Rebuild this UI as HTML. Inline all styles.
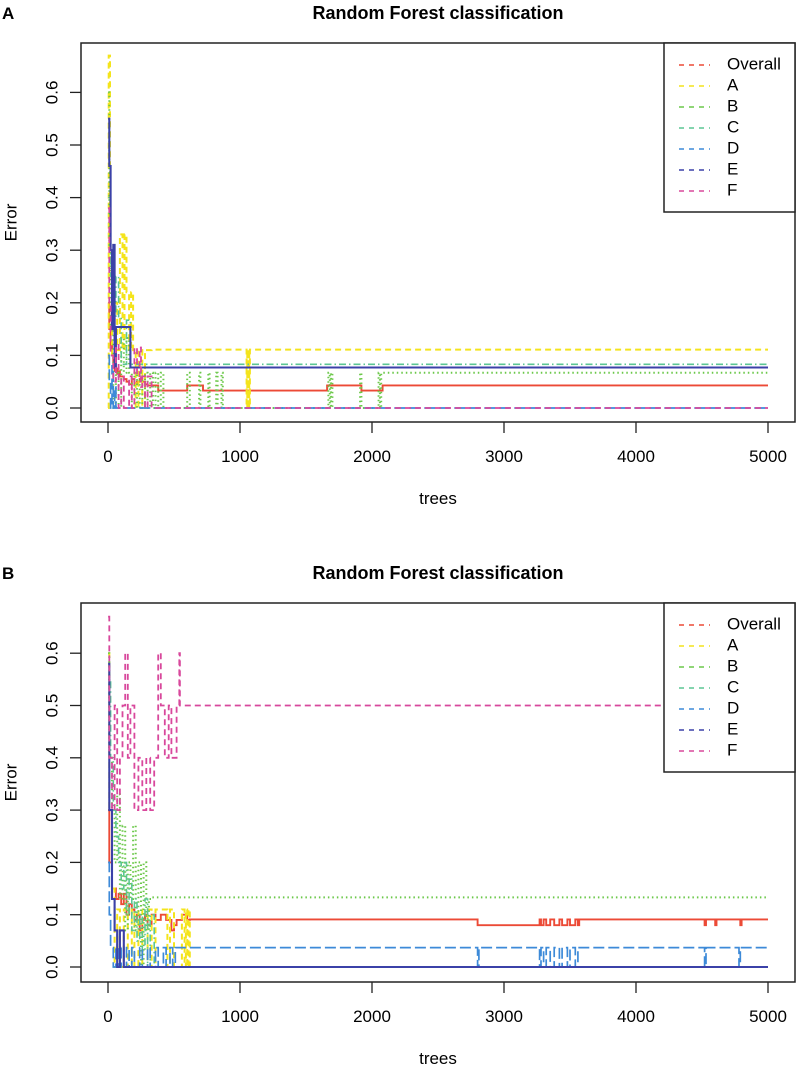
<!DOCTYPE html>
<html><head><meta charset="utf-8">
<style>
html,body{margin:0;padding:0;background:#fff;}
svg{display:block;font-family:"Liberation Sans",sans-serif;}
</style></head>
<body>
<svg id="fig" width="800" height="1069" viewBox="0 0 800 1069"></svg>
<script>
// ---------- Panel A data ----------
const xTicks = [0, 1000, 2000, 3000, 4000, 5000];
const yTicks = [0.0, 0.1, 0.2, 0.3, 0.4, 0.5, 0.6];
const yTickLabels = ["0.0", "0.1", "0.2", "0.3", "0.4", "0.5", "0.6"];
const legendLabels = ["Overall", "A", "B", "C", "D", "E", "F"];

const aOverallX = [1,10,20,30,40,50,60,70,80,90,100,120,140,160,180,200,220,240,260,280,300,380,600,720,1660,1920,2080,5000];
const aOverallY = [0.2,0.15,0.12,0.1,0.08,0.07,0.075,0.065,0.07,0.06,0.06,0.055,0.05,0.045,0.055,0.045,0.05,0.055,0.05,0.045,0.043,0.033,0.043,0.033,0.043,0.033,0.043,0.043];
const aAX = [1,5,15,30,50,70,90,110,125,140,160,175,190,210,230,260,280,330,1050,1055,1060,1065,1070,1075,1080,5000];
const aAY = [0,0.67,0.3,0.1,0.2,0.11,0.33,0.11,0.33,0.22,0.11,0.22,0.11,0,0.11,0,0.11,0.111,0,0.111,0,0.111,0,0.111,0.111,0.111];
const aBX = [1,10,20,40,60,80,100,120,140,160,180,200,220,240,260,280,300,320,340,360,380,400,420,600,620,690,700,760,770,820,830,860,870,1670,1680,1690,1700,1910,1920,2050,2060,2070,5000];
const aBY = [0.6,0.3,0.15,0,0.067,0,0.133,0.067,0.133,0.067,0,0.067,0,0.067,0,0.067,0,0.067,0,0.067,0,0.067,0,0.067,0,0.067,0,0.067,0,0.067,0,0.067,0,0.067,0,0.067,0,0.067,0,0.067,0,0.067,0.067];
const aCX = [1,20,40,60,80,100,140,170,5000];
const aCY = [0.4,0.25,0.17,0.25,0.17,0.083,0.167,0.083,0.083];
const aDX = [1,10,20,30,40,50,60,5000];
const aDY = [0.1,0.05,0,0.08,0,0.04,0,0];
const aEX = [1,10,20,30,40,50,60,170,5000];
const aEY = [0.55,0.46,0.3,0.15,0.31,0.077,0.154,0.077,0.077];
const aFX = [1,10,20,40,60,80,100,120,160,180,200,220,240,250,260,280,300,330,5000];
const aFY = [0.38,0.2,0.1,0.05,0.12,0,0.06,0,0.06,0,0.115,0.06,0.115,0.04,0.06,0,0.06,0,0];

// ---------- Panel B data ----------
const bOverallX = [1,10,30,60,80,100,120,140,160,180,200,220,240,260,280,300,330,360,400,440,480,500,520,560,600,620,2800,3270,3280,3300,3320,3350,3380,3420,3440,3480,3500,3540,3560,3570,4520,4530,4600,4610,4790,4800,5000];
const bOverallY = [0.3,0.2,0.15,0.13,0.14,0.12,0.14,0.1,0.12,0.11,0.09,0.1,0.07,0.09,0.1,0.08,0.1,0.09,0.1,0.09,0.07,0.08,0.09,0.1,0.09,0.091,0.08,0.091,0.08,0.091,0.08,0.091,0.08,0.091,0.08,0.091,0.08,0.091,0.08,0.091,0.08,0.091,0.08,0.091,0.08,0.091,0.091];
const bAX = [1,10,30,50,70,90,120,150,180,200,230,260,300,330,360,450,470,500,560,580,590,600,610,620,5000];
const bAY = [0.6,0.3,0.15,0,0.11,0,0.11,0,0.11,0,0.11,0,0.11,0,0.11,0,0.11,0,0.11,0,0.11,0,0.11,0,0];
const bBX = [1,10,30,50,70,90,110,130,150,170,190,210,230,250,270,290,310,330,5000];
const bBY = [0.6,0.4,0.3,0.2,0.33,0.13,0.27,0.07,0.2,0.13,0.27,0.07,0.2,0,0.2,0.07,0.13,0.133,0.133];
const bCX = [1,20,40,60,80,100,120,140,160,180,200,220,240,260,280,300,320,350,5000];
const bCY = [0.55,0.4,0.3,0.25,0.2,0.15,0.2,0.1,0.17,0.07,0.13,0.05,0.1,0.03,0.13,0,0.1,0,0];
const bDX = [1,10,20,40,60,80,100,120,140,160,180,200,240,260,300,320,360,380,420,440,470,490,510,2800,2810,3270,3280,3300,3320,3350,3380,3420,3440,3480,3500,3540,3560,4520,4530,4780,4790,5000];
const bDY = [0.2,0.1,0.037,0,0.037,0,0.037,0,0.037,0,0.037,0,0.037,0,0.037,0,0.037,0,0.037,0,0.037,0,0.037,0,0.037,0,0.037,0,0.037,0,0.037,0,0.037,0,0.037,0,0.037,0,0.037,0,0.037,0.037];
const bEX = [1,10,30,50,70,90,120,5000];
const bEY = [0.58,0.3,0.13,0.07,0,0.07,0,0];
const bFX = [1,10,30,50,70,90,110,130,150,170,200,230,260,290,320,350,380,400,430,460,480,520,540,545,5000];
const bFY = [0.67,0.4,0.3,0.5,0.3,0.4,0.5,0.6,0.4,0.5,0.3,0.4,0.3,0.4,0.3,0.4,0.6,0.5,0.4,0.5,0.4,0.5,0.6,0.5,0.5];

const colors = ["#ec4a36","#f4e41c","#6cc84a","#5cc694","#3d8ad8","#3b41a8","#d8489c"];
const dashes = ["", "6,4", "1.5,3", "1.5,3,7,3", "11,4", "", "6,4"];
const widths = [1.9,2.0,2.0,1.6,1.7,2.1,1.8];

const NS = "http://www.w3.org/2000/svg";
const svg = document.getElementById("fig");
function mk(tag, attrs, parent) {
  const e = document.createElementNS(NS, tag);
  for (const k in attrs) e.setAttribute(k, attrs[k]);
  (parent || svg).appendChild(e);
  return e;
}

function panel(p) {
  const g = mk("g", {});
  
  
  const sx = v => 108 + v * 0.132;
  const sy = v => p.y0 - v * p.k;

  const lab = mk("text", {x: 2, y: p.top - 24, "font-size": 17, "font-weight": "bold"}, g);
  lab.textContent = p.id;
  
  

  const t = mk("text", {x: 438, y: p.top - 24, "font-size": 18, "font-weight": "bold", "text-anchor": "middle"}, g);
  t.textContent = "Random Forest classification";
  
  

  const sg = mk("g", {"clip-path": "url(#clip" + p.id + ")"}, g);
  
  
  const cp = mk("clipPath", {id: "clip" + p.id}, g);
  mk("rect", {x: 81, y: p.top, width: 714, height: p.bottom - p.top}, cp);
  p.series.forEach((s, i) => {
    const xs = s[0], ys = s[1];
    let d = "M" + sx(xs[0]).toFixed(1) + "," + sy(ys[0]).toFixed(1);
    for (let j = 1; j < xs.length; j++) {
      d += "H" + sx(xs[j]).toFixed(1) + "V" + sy(ys[j]).toFixed(1);
    }
    const path = mk("path", {d: d, fill: "none", stroke: colors[i], "stroke-width": widths[i], "stroke-dasharray": dashes[i]}, sg);
    
    
  });

  const box = mk("rect", {x: 81, y: p.top, width: 714, height: p.bottom - p.top, fill: "none", stroke: "#222", "stroke-width": 1.5}, g);
  
  

  yTicks.forEach((v, i) => {
    const y = sy(v);
    const tk = mk("line", {x1: 70, x2: 81, y1: y, y2: y, stroke: "#222", "stroke-width": 1.3}, g);
    
    
    const tl = mk("text", {x: 53, y: y, "font-size": 17, "text-anchor": "middle", "dominant-baseline": "middle", transform: "rotate(-90 53 " + y + ")"}, g);
    tl.textContent = yTickLabels[i];
    
    
  });
  const yt = mk("text", {x: 12, y: (p.top + p.bottom) / 2 - 10, "font-size": 17, "text-anchor": "middle", "dominant-baseline": "middle", transform: "rotate(-90 12 " + ((p.top + p.bottom) / 2 - 10) + ")"}, g);
  yt.textContent = "Error";
  
  

  xTicks.forEach(v => {
    const x = sx(v);
    const tk = mk("line", {x1: x, x2: x, y1: p.bottom, y2: p.bottom + 11, stroke: "#222", "stroke-width": 1.3}, g);
    
    
    const tl = mk("text", {x: x, y: p.bottom + 40, "font-size": 17, "text-anchor": "middle"}, g);
    tl.textContent = String(v);
    
    
  });
  const xt = mk("text", {x: 438, y: p.bottom + 82, "font-size": 17, "text-anchor": "middle"}, g);
  xt.textContent = "trees";
  
  

  const lg = mk("g", {}, g);
  
  
  const lb = mk("rect", {x: 664, y: p.top, width: 131, height: 169, fill: "#fff", stroke: "#222", "stroke-width": 1.5}, lg);
  
  
  legendLabels.forEach((name, i) => {
    const y = p.top + 22 + i * 21;
    const ln = mk("line", {x1: 679, x2: 710, y1: y, y2: y, stroke: colors[i], "stroke-width": 1.6, "stroke-dasharray": "5,5"}, lg);
    
    
    const tx = mk("text", {x: 727, y: y, "font-size": 17, "dominant-baseline": "middle"}, lg);
    tx.textContent = name;
    
    
  });
}

panel({id: "A", top: 43, bottom: 422, y0: 408, k: 526,
  series: [[aOverallX,aOverallY],[aAX,aAY],[aBX,aBY],[aCX,aCY],[aDX,aDY],[aEX,aEY],[aFX,aFY]]});
panel({id: "B", top: 603, bottom: 982, y0: 967, k: 523,
  series: [[bOverallX,bOverallY],[bAX,bAY],[bBX,bBY],[bCX,bCY],[bDX,bDY],[bEX,bEY],[bFX,bFY]]});
</script>
</body></html>
